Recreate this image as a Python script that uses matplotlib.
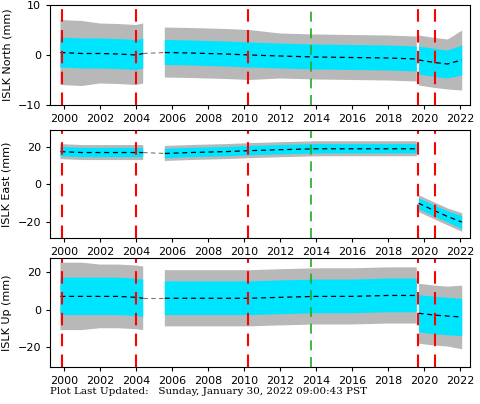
import numpy as np
import matplotlib
matplotlib.use("Agg")
import matplotlib.pyplot as plt

# Dates (decimal years) at which envelopes were read; NaN marks the data gap
t = [1999.8, 2001.0, 2002.0, 2003.0, 2004.0, 2004.4, np.nan, 2005.6, 2007.0, 2009.0, 2010.3, 2012.0,
     2014.0, 2016.0, 2018.0, 2019.6, 2019.7, 2020.6, 2021.3, 2022.1]

# North (mm)
n_mid = [0.5, 0.3, 0.3, 0.2, 0.0, 0.3, np.nan, 0.5, 0.4, 0.2, 0.0, -0.2, -0.4, -0.5, -0.6, -0.8, -1.0, -1.5, -1.8, -1.0]
n_cyan = [3.0, 3.0, 3.0, 3.0, 3.0, 3.0, np.nan, 2.5, 2.5, 2.5, 2.5, 2.5, 2.5, 2.5, 2.5, 2.5, 2.8, 2.8, 2.8, 3.0]
n_gray = [6.5, 6.5, 6.0, 6.0, 6.0, 6.0, np.nan, 5.0, 5.0, 5.0, 5.0, 4.5, 4.5, 4.5, 4.5, 4.5, 5.0, 5.0, 5.0, 6.0]
# East (mm)
e_mid = [17.5, 17.0, 17.0, 17.0, 17.0, 17.0, np.nan, 16.5, 17.0, 17.5, 18.0, 18.5, 19.0, 19.0, 19.0, 19.0, -10.0, -14.0, -17.0, -20.0]
e_cyan = [2.5, 2.5, 2.5, 2.5, 2.5, 2.5, np.nan, 2.5, 2.5, 2.5, 2.5, 2.5, 2.5, 2.5, 2.5, 2.5, 3.0, 3.0, 3.0, 3.5]
e_gray = [4.0, 4.0, 4.0, 4.0, 4.0, 4.0, np.nan, 4.0, 4.0, 4.0, 4.0, 4.0, 4.0, 4.0, 4.0, 4.0, 4.5, 4.5, 4.5, 5.0]
# Up (mm)
u_mid = [7.0, 7.0, 7.0, 7.0, 6.5, 6.0, np.nan, 6.0, 6.0, 6.0, 6.0, 6.5, 7.0, 7.0, 7.5, 7.5, -2.0, -3.0, -3.5, -4.0]
u_cyan = [10.0, 10.0, 10.0, 10.0, 10.0, 10.0, np.nan, 9.0, 9.0, 9.0, 9.0, 9.0, 9.0, 9.0, 9.0, 9.0, 10.0, 10.0, 10.0, 10.0]
u_gray = [18.0, 18.0, 17.0, 17.0, 17.0, 17.0, np.nan, 15.0, 15.0, 15.0, 15.0, 15.0, 15.0, 15.0, 15.0, 15.0, 16.0, 16.0, 16.0, 17.0]

red_events = [1999.9, 2004.0, 2010.25, 2019.65, 2020.6]
green_events = [2013.7]
xticks = list(range(2000, 2024, 2))

fig = plt.figure(figsize=(4.81, 4.04), dpi=100)
boxes = [(50/481, 1-105/404, 420/481, 100/404),
         (50/481, 1-238/404, 420/481, 108/404),
         (50/481, 1-367/404, 420/481, 109/404)]
panels = [("ISLK North (mm)", n_mid, n_cyan, n_gray, (-10, 10), [-10, 0, 10]),
          ("ISLK East (mm)", e_mid, e_cyan, e_gray, (-28.5, 29), [-20, 0, 20]),
          ("ISLK Up (mm)", u_mid, u_cyan, u_gray, (-30.7, 27.5), [-20, 0, 20])]

ta = np.array(t, dtype=float)
for box, (lab, mid, cy, gr, yl, yt) in zip(boxes, panels):
    ax = fig.add_axes(box)
    m = np.array(mid, float); c = np.array(cy, float); g = np.array(gr, float)
    # split at the co-seismic jump so fills don't connect across it
    for sl in [slice(0, 16), slice(16, 20)]:
        ax.fill_between(ta[sl], (m - g)[sl], (m + g)[sl], color="#b8b8b8", lw=0)
        ax.fill_between(ta[sl], (m - c)[sl], (m + c)[sl], color="#00e5ff", lw=0)
        ax.plot(ta[sl], m[sl], ls=(0, (4, 3)), color="black", lw=0.9)
    ax.plot([2004.4, 2005.6], [mid[5], mid[7]], ls=(0, (4, 3)), color="#777777", lw=0.8)
    for x in red_events:
        ax.axvline(x, color="red", ls=(0, (6, 4)), lw=1.5)
    for x in green_events:
        ax.axvline(x, color="#22aa22", ls=(0, (6, 4)), lw=1.2)
    ax.set_xlim(1999.22, 2022.56)
    ax.set_ylim(*yl)
    ax.set_yticks(yt)
    ax.set_xticks(xticks)
    ax.tick_params(labelsize=8, direction="out", length=3)
    ax.set_ylabel(lab, fontsize=8)

fig.text(50/481, 1-392/404, "Plot Last Updated:   Sunday, January 30, 2022 09:00:43 PST",
         fontsize=7.5, family="DejaVu Serif", va="center")
fig.savefig("out.png", dpi=100)
